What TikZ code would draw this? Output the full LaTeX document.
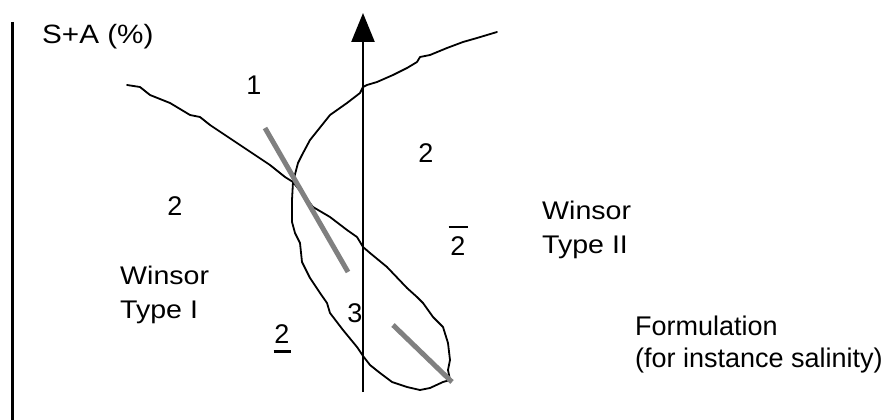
\documentclass[tikz,border=0pt]{standalone}
\usepackage{fontspec}
\setmainfont{Liberation Sans}
\newfontfamily\widefont[FakeStretch=1.12]{Liberation Sans}
\usetikzlibrary{arrows.meta}
\newcommand\barover[1]{\leavevmode\vbox{\hrule height 2.5pt\kern 8pt\hbox to 19pt{\hss#1\hss}}}
\newcommand\barunder[1]{\leavevmode\vtop{\hbox to 17pt{\hss#1\hss}\kern 7pt\hrule height 2.5pt}}
\tikzset{
  lbl/.style={inner sep=0pt, font=\fontsize{27}{32}\selectfont},
  lblw/.style={lbl, align=left, anchor=base west},
  widelbl/.style={lblw, font=\widefont\fontsize{25.5}{34}\selectfont},
  curve/.style={line width=1.8pt, line join=round, line cap=round},
  greyline/.style={line width=5pt, draw={rgb,255:red,128;green,128;blue,128}},
}
\begin{document}
\begin{tikzpicture}[x=1pt,y=-1pt]
\useasboundingbox (0,0) rectangle (895,420);
% left axis
\coordinate (ya) at (12.5,22);
\coordinate (yb) at (12.5,420);
\draw[line width=3pt] (ya) -- (yb);
% vertical arrow
\coordinate (axb) at (363,392);
\coordinate (axt) at (363,13);
\draw[line width=2.5pt, -{Triangle[length=29pt,width=23pt]}] (axb) -- (axt);
% phase boundary curve
\draw[curve] (127,85) -- (140,87) -- (150,95) -- (170,103) -- (190,115) -- (200,117)
  -- (210,125) -- (225,135) -- (240,145) -- (255,155) -- (270,165) -- (285,177)
  -- (293,182) -- (313,207) -- (330,217) -- (347,230) -- (357,237) -- (363,247)
  -- (370,253) -- (387,267) -- (407,288) -- (417,297) -- (423,303) -- (433,317)
  -- (443,327) -- (448,343) -- (450,360) -- (448,370) -- (450,380) -- (443,382)
  -- (430,388) -- (420,390) -- (407,387) -- (392,382) -- (380,373) -- (370,365)
  -- (363,356) -- (357,347) -- (343,330) -- (330,313) -- (327,303) -- (320,293)
  -- (310,278) -- (302,262) -- (300,243) -- (295,233) -- (292,222) -- (292,200)
  -- (293,182) -- (298,163) -- (302,155) -- (310,140) -- (330,115) -- (347,103)
  -- (360,93) -- (363,87) -- (367,85) -- (377,82) -- (393,75) -- (407,68)
  -- (417,62) -- (420,57) -- (430,55) -- (447,48) -- (463,42) -- (477,38) -- (497,32);
% grey tie lines
\coordinate (g1a) at (265,128);
\coordinate (g1b) at (348,272);
\coordinate (g2a) at (393,325);
\coordinate (g2b) at (452,382);
\draw[greyline] (g1a) -- (g1b);
\draw[greyline] (g2a) -- (g2b);
% labels
\node[widelbl, font=\widefont\fontsize{26.5}{34}\selectfont] (ylab) at (42,44) {S+A (\%)};
\node[lbl, anchor=base] (n1) at (254,95) {1};
\node[lbl, anchor=base] (n2r) at (426,162) {2};
\node[lbl, anchor=base] (n2l) at (175,215) {2};
\node[lbl, anchor=base] (n2o) at (458,255) {\barover{2}};
\node[lbl, anchor=base] (n2u) at (282,343) {\barunder{2}};
\node[lbl, anchor=base] (n3) at (355,322) {3};
\node[widelbl] (w2) at (542,253) {Winsor\\Type II};
\node[widelbl] (w1) at (120,318) {Winsor\\Type I};
\node[lblw] (form) at (635,367) {Formulation\\(for instance salinity)};
\end{tikzpicture}
\end{document}
